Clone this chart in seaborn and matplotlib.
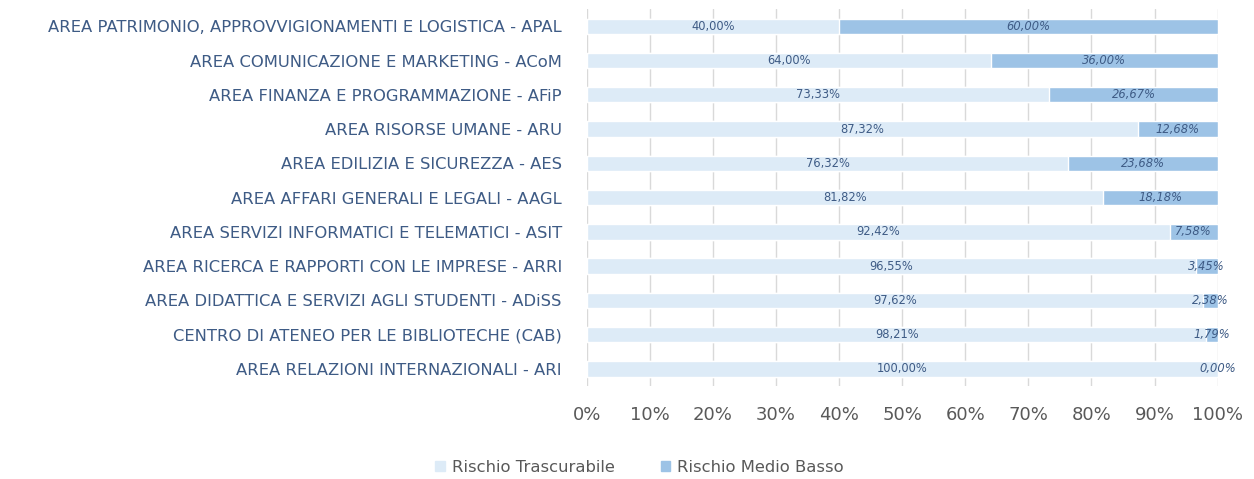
import pandas as pd
import numpy as np
import matplotlib
matplotlib.use('Agg')
import matplotlib.pyplot as plt
import seaborn as sb
from matplotlib.patches import Patch

categories = [
    'AREA PATRIMONIO, APPROVVIGIONAMENTI E LOGISTICA - APAL',
    'AREA COMUNICAZIONE E MARKETING - ACoM',
    'AREA FINANZA E PROGRAMMAZIONE - AFiP',
    'AREA RISORSE UMANE - ARU',
    'AREA EDILIZIA E SICUREZZA - AES',
    'AREA AFFARI GENERALI E LEGALI - AAGL',
    'AREA SERVIZI INFORMATICI E TELEMATICI - ASIT',
    'AREA RICERCA E RAPPORTI CON LE IMPRESE - ARRI',
    'AREA DIDATTICA E SERVIZI AGLI STUDENTI - ADiSS',
    'CENTRO DI ATENEO PER LE BIBLIOTECHE (CAB)',
    'AREA RELAZIONI INTERNAZIONALI - ARI',
]
trascurabile = [40.00, 64.00, 73.33, 87.32, 76.32, 81.82, 92.42, 96.55, 97.62, 98.21, 100.00]
medio_basso = [60.00, 36.00, 26.67, 12.68, 23.68, 18.18, 7.58, 3.45, 2.38, 1.79, 0.00]

df = pd.DataFrame({'area': categories, 'tras': trascurabile, 'medio': medio_basso})
df['tot'] = df.tras + df.medio

sb.set_style('white')
plt.rcParams['font.family'] = ['DejaVu Sans']

c_light = '#DDEBF7'
c_dark = '#9DC3E6'
txt = '#3E5B85'

fig = plt.figure(figsize=(12.54, 4.79), dpi=100)
ax = fig.add_axes([0.468, 0.194, 0.503, 0.787])

# stacked bars: total in dark first, light share drawn on top
sb.barplot(x=df.tot, y=df.area, color=c_dark, width=0.45, saturation=1, ax=ax, zorder=2)
sb.barplot(x=df.tras, y=df.area, color=c_light, width=0.45, saturation=1, ax=ax, zorder=3)

for i, row in df.iterrows():
    ax.text(row.tras / 2, i, f"{row.tras:.2f}%".replace('.', ','), ha='center', va='center',
            fontsize=8.3, color=txt, zorder=5)
    ax.text(row.tras + row.medio / 2, i, f"{row.medio:.2f}%".replace('.', ','), ha='center', va='center',
            fontsize=8.3, color=txt, style='italic', zorder=5)

ax.set_xlim(0, 100)
ax.set_ylim(10.5, -0.5)
ax.set_xticks(np.arange(0, 101, 10))
ax.set_xticklabels([f"{t}%" for t in range(0, 101, 10)], fontsize=13, color='#595959')
ax.tick_params(axis='y', labelsize=11.8, labelcolor=txt, length=0, pad=18)
ax.tick_params(axis='x', length=0, pad=14)
ax.grid(axis='x', color='#D9D9D9', linewidth=1, zorder=0)
ax.set_axisbelow(True)
for s in ax.spines.values():
    s.set_visible(False)
ax.set_xlabel('')
ax.set_ylabel('')

handles = [Patch(color=c_light, label='Rischio Trascurabile'), Patch(color=c_dark, label='Rischio Medio Basso')]
fig.legend(handles=handles, loc='center', bbox_to_anchor=(0.51, 0.025), ncol=2, frameon=False,
           fontsize=11.8, handlelength=0.6, handleheight=0.6, handletextpad=0.4, columnspacing=2.8,
           labelcolor='#595959')

plt.savefig('out.png', dpi=100)
